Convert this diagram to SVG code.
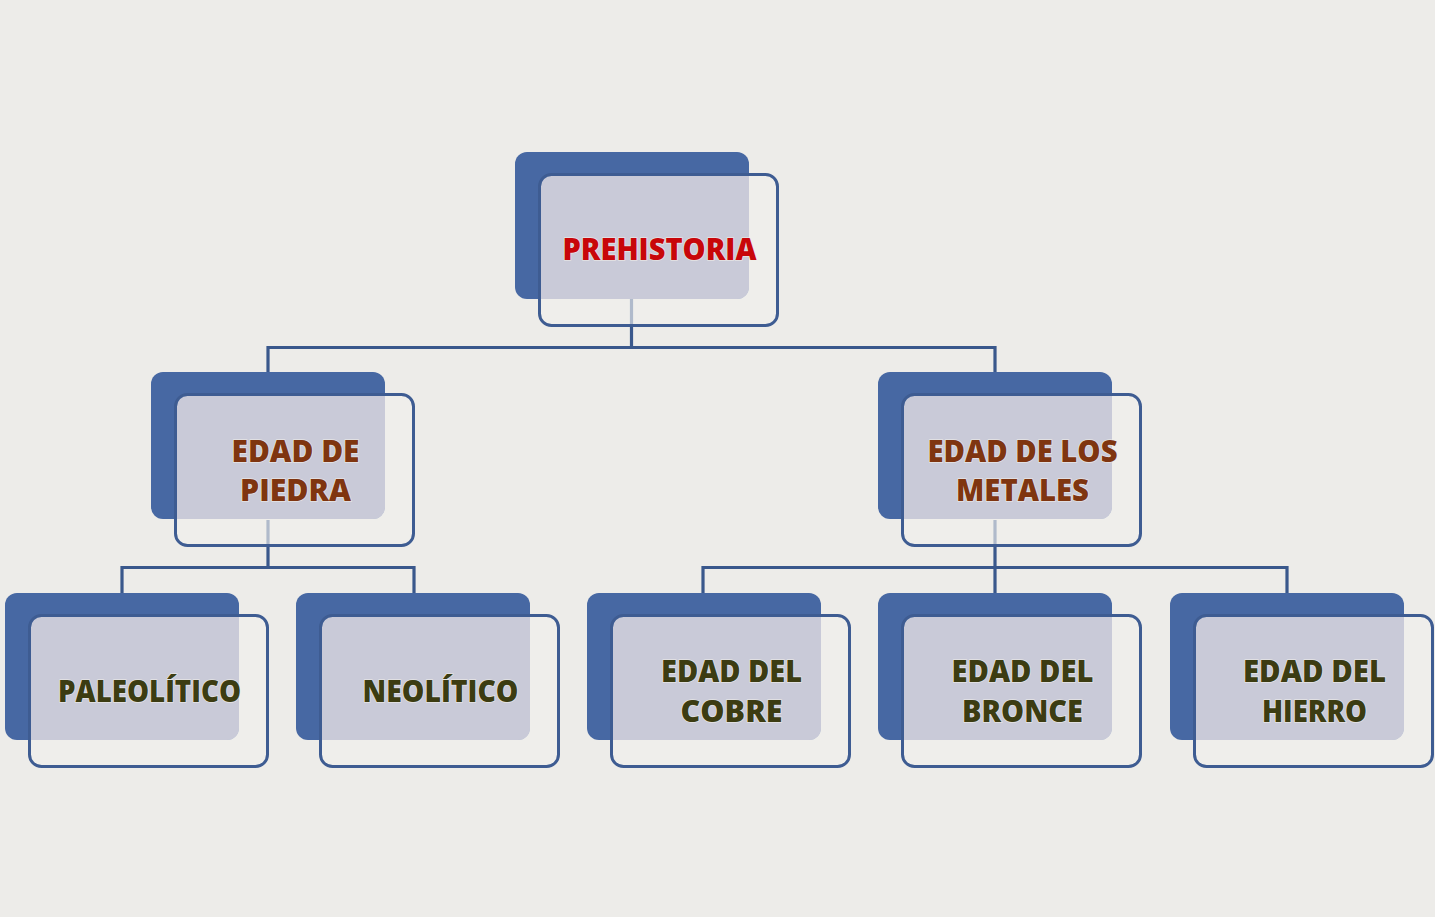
<svg xmlns="http://www.w3.org/2000/svg" xmlns:xlink="http://www.w3.org/1999/xlink" width="1435" height="917" viewBox="0 0 1435 917">
<style>
.back{fill:#4768a3}
.ffill{fill:#f0efed;fill-opacity:0.65}
.ov{fill:#c9cad8}
.fline{fill:none;stroke:#3e5c92;stroke-width:3}
.conn{fill:none;stroke:#3a588c;stroke-width:3.2;stroke-linecap:butt;stroke-linejoin:miter}
text{font-family:"Open Sans","Liberation Sans",sans-serif;font-weight:800;font-size:30px;text-anchor:middle;paint-order:stroke;stroke:#f2f1ea;stroke-width:1.5;stroke-opacity:0.7}
.t0{fill:#c8060a}
.t1{fill:#7f3510}
.t2{fill:#3c3c12}
</style>
<defs>
<g id="box">
<rect class="back" x="0" y="0" width="234" height="147" rx="12"/>
<rect class="ffill" x="24.5" y="22.5" width="238" height="151" rx="12"/>
<path class="ov" d="M36,24 H234 V135 A12 12 0 0 1 222,147 H26 V34 A10 10 0 0 1 36,24 Z"/>
<rect class="fline" x="24.5" y="22.5" width="238" height="151" rx="12"/>
</g>
</defs>
<rect x="0" y="0" width="1435" height="917" fill="#edece9"/>
<g id="connectors">
<path class="conn" d="M631.5,298 V347.5 M266.5,347.5 H996.5 M268,346 V372 M995,346 V372"/>
<path class="conn" d="M268,520 V567.5 M120.5,567.5 H415.5 M122,566 V593 M414,566 V593"/>
<path class="conn" d="M995,520 V593 M701.5,567.5 H1288.5 M703,566 V593 M1287,566 V593"/>
</g>
<g id="node-prehistoria" transform="translate(515,152)">
<use xlink:href="#box" href="#box"/>
<text class="t0" x="144.5" y="108" textLength="194" lengthAdjust="spacingAndGlyphs">PREHISTORIA</text>
</g>
<g id="node-piedra" transform="translate(151,372)">
<use xlink:href="#box" href="#box"/>
<text class="t1" x="144.5" y="90" textLength="128" lengthAdjust="spacingAndGlyphs">EDAD DE</text>
<text class="t1" x="144.5" y="128.5" textLength="111" lengthAdjust="spacingAndGlyphs">PIEDRA</text>
</g>
<g id="node-metales" transform="translate(878,372)">
<use xlink:href="#box" href="#box"/>
<text class="t1" x="144.5" y="90" textLength="190" lengthAdjust="spacingAndGlyphs">EDAD DE LOS</text>
<text class="t1" x="144.5" y="128.5" textLength="133" lengthAdjust="spacingAndGlyphs">METALES</text>
</g>
<g id="node-paleolitico" transform="translate(5,593)">
<use xlink:href="#box" href="#box"/>
<text class="t2" x="144.5" y="109" textLength="183" lengthAdjust="spacingAndGlyphs">PALEOLÍTICO</text>
</g>
<g id="node-neolitico" transform="translate(296,593)">
<use xlink:href="#box" href="#box"/>
<text class="t2" x="144.5" y="109" textLength="156" lengthAdjust="spacingAndGlyphs">NEOLÍTICO</text>
</g>
<g id="node-cobre" transform="translate(587,593)">
<use xlink:href="#box" href="#box"/>
<text class="t2" x="144.5" y="89" textLength="141" lengthAdjust="spacingAndGlyphs">EDAD DEL</text>
<text class="t2" x="144.5" y="129" textLength="102" lengthAdjust="spacingAndGlyphs">COBRE</text>
</g>
<g id="node-bronce" transform="translate(878,593)">
<use xlink:href="#box" href="#box"/>
<text class="t2" x="144.5" y="89" textLength="142" lengthAdjust="spacingAndGlyphs">EDAD DEL</text>
<text class="t2" x="144.5" y="129" textLength="121" lengthAdjust="spacingAndGlyphs">BRONCE</text>
</g>
<g id="node-hierro" transform="translate(1170,593)">
<use xlink:href="#box" href="#box"/>
<text class="t2" x="144.5" y="89" textLength="143" lengthAdjust="spacingAndGlyphs">EDAD DEL</text>
<text class="t2" x="144.5" y="129" textLength="105" lengthAdjust="spacingAndGlyphs">HIERRO</text>
</g>
</svg>
